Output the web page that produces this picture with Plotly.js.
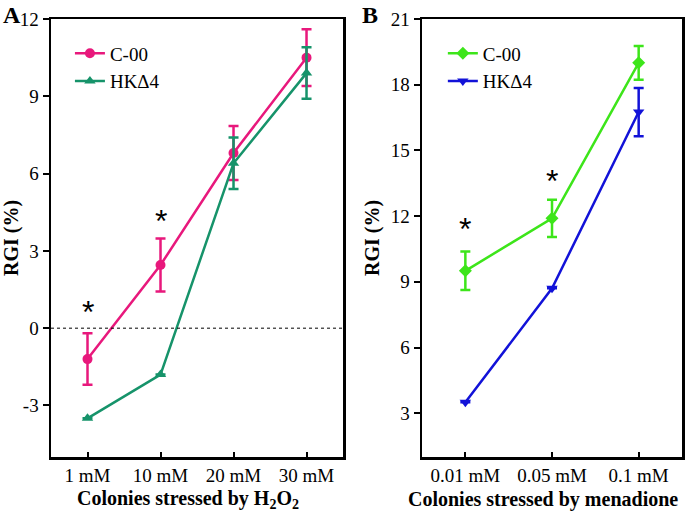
<!DOCTYPE html>
<html><head><meta charset="utf-8">
<script src="https://cdn.plot.ly/plotly-3.0.1.min.js"></script>
<style>html,body{margin:0;padding:0;background:#fff;}</style>
</head><body>
<div id="chart" style="width:685px;height:514px;"></div>
<script>
// Panel A data
const catsA = ['1 mM', '10 mM', '20 mM', '30 mM'];
const c00A = [-1.2, 2.45, 6.8, 10.5];
const c00Aerr = [1.0, 1.03, 1.05, 1.1];
const hkA = [-3.5, -1.8, 6.4, 9.9];
const hkAerr = [0, 0, 1.0, 1.0];
const starAx = ['1 mM', '10 mM'];
const starAy = [0.63, 4.17];
const yTickValsA = [-3, 0, 3, 6, 9, 12];
const yTickTextA = ['-3', '0', '3', '6', '9', '12'];

// Panel B data
const catsB = ['0.01 mM', '0.05 mM', '0.1 mM'];
const c00B = [9.5, 11.9, 19.0];
const c00Berr = [0.88, 0.85, 0.77];
const hkB = [3.5, 8.7, 16.75];
const hkBerr = [0, 0, 1.1];
const starBx = ['0.01 mM', '0.05 mM'];
const starBy = [11.4, 13.6];
const yTickValsB = [3, 6, 9, 12, 15, 18, 21];

const seriesNames = ['C-00', 'HKΔ4'];

const pink = '#e8187c', teal = '#16936a', lime = '#3de51a', blue = '#1212d8';
const serif = '"Liberation Serif", "Times New Roman", serif';

function tr(x, y, err, name, color, symbol, xa, ya, leg) {
  return {
    x: x, y: y, type: 'scatter', mode: 'lines+markers',
    name: '<span style="font-family:Liberation Serif">' + name + '</span>',
    xaxis: xa, yaxis: ya, legend: leg,
    line: {color: color, width: 2.5},
    marker: {color: color, symbol: symbol, size: 10},
    error_y: {type: 'data', array: err, visible: true, color: color, thickness: 2.5, width: 5}
  };
}

const data = [
  tr(catsA, c00A, c00Aerr, seriesNames[0], pink, 'circle', 'x', 'y', 'legend'),
  tr(catsA, hkA, hkAerr, seriesNames[1], teal, 'triangle-up', 'x', 'y', 'legend'),
  tr(catsB, c00B, c00Berr, seriesNames[0], lime, 'diamond', 'x2', 'y2', 'legend2'),
  tr(catsB, hkB, hkBerr, seriesNames[1], blue, 'triangle-down', 'x2', 'y2', 'legend2')
];

const axisBase = {
  showline: true, linecolor: '#000', linewidth: 2.5, mirror: true,
  ticks: 'outside', ticklen: 6, tickwidth: 2, tickcolor: '#000',
  showgrid: false, zeroline: false,
  tickfont: {family: serif, size: 19, color: '#000'}
};
const xBase = Object.assign({}, axisBase, {ticks: 'inside', ticklen: 5});

const titleFont = {family: serif, size: 20, color: '#000', weight: 'bold'};
const starFont = {family: '"Liberation Sans", Arial, sans-serif', size: 32, color: '#000'};
const annotations = [];
starAx.forEach((x, i) => annotations.push({x: x, y: starAy[i], xref: 'x', yref: 'y', text: '*', showarrow: false, font: starFont}));
starBx.forEach((x, i) => annotations.push({x: x, y: starBy[i], xref: 'x2', yref: 'y2', text: '*', showarrow: false, font: starFont}));
annotations.push({x: -0.079, y: 1.0434, xref: 'paper', yref: 'paper', xanchor: 'left', yanchor: 'top', text: 'A', showarrow: false,
  font: {family: serif, size: 24, color: '#000', weight: 'bold'}});
annotations.push({x: 0.49, y: 1.0434, xref: 'paper', yref: 'paper', xanchor: 'left', yanchor: 'top', text: 'B', showarrow: false,
  font: {family: serif, size: 24, color: '#000', weight: 'bold'}});
annotations.push({x: 0.2171, y: -0.096, xref: 'paper', yref: 'paper', xanchor: 'center', yanchor: 'middle',
  text: 'Colonies stressed by H<sub>2</sub>O<sub>2</sub>', showarrow: false, font: titleFont});
annotations.push({x: 0.7797, y: -0.096, xref: 'paper', yref: 'paper', xanchor: 'center', yanchor: 'middle',
  text: 'Colonies stressed by menadione', showarrow: false, font: titleFont});

const layout = {
  width: 685, height: 514,
  margin: {l: 51, r: 3, t: 19, b: 57},
  paper_bgcolor: '#fff', plot_bgcolor: '#fff',
  showlegend: true,
  font: {family: serif, color: '#000'},
  xaxis: Object.assign({}, xBase, {domain: [0, 0.4628], type: 'category', range: [-0.5, 3.5]}),
  yaxis: Object.assign({}, axisBase, {range: [-5, 12], tickvals: yTickValsA, ticktext: yTickTextA,
    title: {text: 'RGI (%)', font: titleFont, standoff: 6}}),
  xaxis2: Object.assign({}, xBase, {domain: [0.588, 1], anchor: 'y2', type: 'category', range: [-0.5, 2.5]}),
  yaxis2: Object.assign({}, axisBase, {anchor: 'x2', range: [1, 21], tickvals: yTickValsB,
    title: {text: 'RGI (%)', font: titleFont, standoff: 6}}),
  shapes: [{type: 'line', xref: 'x domain', yref: 'y', x0: 0, x1: 1, y0: 0, y1: 0,
    line: {color: '#000', width: 1, dash: 'dot'}}],
  legend: {x: 0.03, y: 0.965, xanchor: 'left', yanchor: 'top', bgcolor: 'rgba(0,0,0,0)',
    font: {family: serif, size: 19, color: '#000'}, tracegroupgap: 0, itemwidth: 30},
  legend2: {x: 0.621, y: 0.965, xanchor: 'left', yanchor: 'top', bgcolor: 'rgba(0,0,0,0)',
    font: {family: serif, size: 19, color: '#000'}, tracegroupgap: 0, itemwidth: 30},
  annotations: annotations
};

Plotly.newPlot('chart', data, layout, {displayModeBar: false, staticPlot: true});
</script>
</body></html>
